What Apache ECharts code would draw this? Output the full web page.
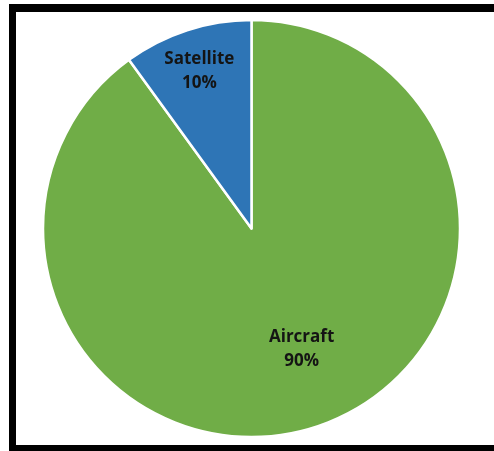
<!DOCTYPE html>
<html>
<head>
<meta charset="utf-8">
<script src="https://cdn.jsdelivr.net/npm/echarts@6/dist/echarts.min.js"></script>
<style>
  html, body { margin: 0; padding: 0; background: #fff; }
  #chart { width: 494px; height: 451px; }
</style>
</head>
<body>
<div id="chart"></div>
<script>
// Share of observations by platform
const categories = ['Aircraft', 'Satellite'];
const shares = [90, 10];
const colors = ['#70AD47', '#2E75B6'];
// label nudges from the default inside position (per slice)
const labelShift = [[17, 19], [-19, -55]];

const chart = echarts.init(document.getElementById('chart'), null, { renderer: 'canvas' });

const data = categories.map((name, i) => ({
  name: name,
  value: shares[i],
  itemStyle: { color: colors[i] }
}));

chart.setOption({
  backgroundColor: '#ffffff',
  animation: false,
  graphic: [
    { type: 'rect', shape: { x: 9, y: 4, width: 485, height: 8 }, style: { fill: '#000' } },
    { type: 'rect', shape: { x: 9, y: 4, width: 7, height: 447 }, style: { fill: '#000' } },
    { type: 'rect', shape: { x: 9, y: 445, width: 485, height: 6 }, style: { fill: '#000' } }
  ],
  series: [{
    type: 'pie',
    center: [251.5, 228.5],
    radius: 208.5,
    startAngle: 90,
    clockwise: true,
    data: data,
    itemStyle: { borderColor: '#ffffff', borderWidth: 2.5 },
    label: {
      show: true,
      position: 'inside',
      formatter: '{b}\n{d}%',
      fontFamily: '"Open Sans", "Liberation Sans", sans-serif',
      fontWeight: 'bold',
      fontSize: 17,
      lineHeight: 24,
      color: '#141414'
    },
    labelLayout: function (params) {
      const s = labelShift[params.dataIndex];
      return { dx: s[0], dy: s[1] };
    },
    labelLine: { show: false },
    emphasis: { disabled: true }
  }]
});
</script>
</body>
</html>
